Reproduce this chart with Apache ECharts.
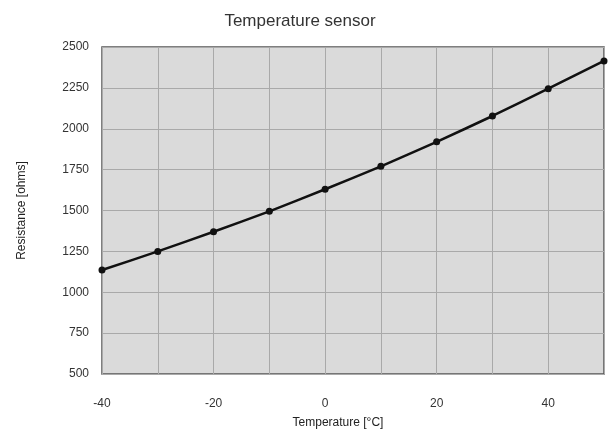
<!DOCTYPE html>
<html>
<head>
<meta charset="utf-8">
<style>
    html, body { margin: 0; padding: 0; background: #fff; }
    #chart { width: 608px; height: 434px; }
</style>
<script src="https://cdn.jsdelivr.net/npm/echarts@6/dist/echarts.min.js"></script>
</head>
<body>
<div id="chart"></div>
<script>
    // temperature in °C, resistance in ohms
    var temps = [-40, -30, -20, -10, 0, 10, 20, 30, 40, 50];
    var resistance = [1136, 1250, 1370, 1495, 1630, 1770, 1920, 2078, 2245, 2415];
    var yTicks = [500, 750, 1000, 1250, 1500, 1750, 2000, 2250, 2500];

    var points = [];
    for (var i = 0; i < temps.length; i++) {
        points.push([temps[i], resistance[i]]);
    }

    var myChart = echarts.init(document.getElementById("chart"));
    myChart.setOption({
        backgroundColor: "#fff",
        textStyle: { fontFamily: "Liberation Sans, Arial, sans-serif" },
        title: {
            text: "Temperature sensor",
            left: 295,
            top: 8,
            textAlign: "center",
            textStyle: { fontSize: 17, fontWeight: "normal", color: "#333" }
        },
        grid: {
            left: 102,
            right: 4,
            top: 47,
            bottom: 58,
            show: true,
            backgroundColor: "#dadada",
            borderColor: "#555",
            borderWidth: 1.5
        },
        xAxis: {
            type: "value",
            min: -40,
            max: 50,
            interval: 10,
            name: "Temperature [°C]",
            nameLocation: "middle",
            nameGap: 43,
            nameTextStyle: { fontSize: 12, color: "#222", padding: [0, 30, 0, 0] },
            axisLine: { show: false },
            axisTick: { show: false },
            axisLabel: {
                margin: 24,
                fontSize: 12,
                color: "#333",
                formatter: function (v) {
                    return (v % 20 === 0) ? String(v) : "";
                }
            },
            splitLine: { show: true, lineStyle: { color: "#a9a9a9", width: 1 } }
        },
        yAxis: {
            type: "value",
            min: yTicks[0],
            max: yTicks[yTicks.length - 1],
            interval: 250,
            name: "Resistance [ohms]",
            nameLocation: "middle",
            nameGap: 74,
            nameTextStyle: { fontSize: 12, color: "#222" },
            axisLine: { show: false },
            axisTick: { show: false },
            axisLabel: {
                margin: 13,
                fontSize: 12,
                color: "#333",
                formatter: function (v) { return String(v); }
            },
            splitLine: { show: true, lineStyle: { color: "#a9a9a9", width: 1 } }
        },
        series: [
            {
                name: "Resistance",
                type: "line",
                data: points,
                smooth: 0.2,
                symbol: "circle",
                symbolSize: 7,
                itemStyle: { color: "#111" },
                lineStyle: { color: "#111", width: 2.5 }
            }
        ]
    });
</script>
</body>
</html>
